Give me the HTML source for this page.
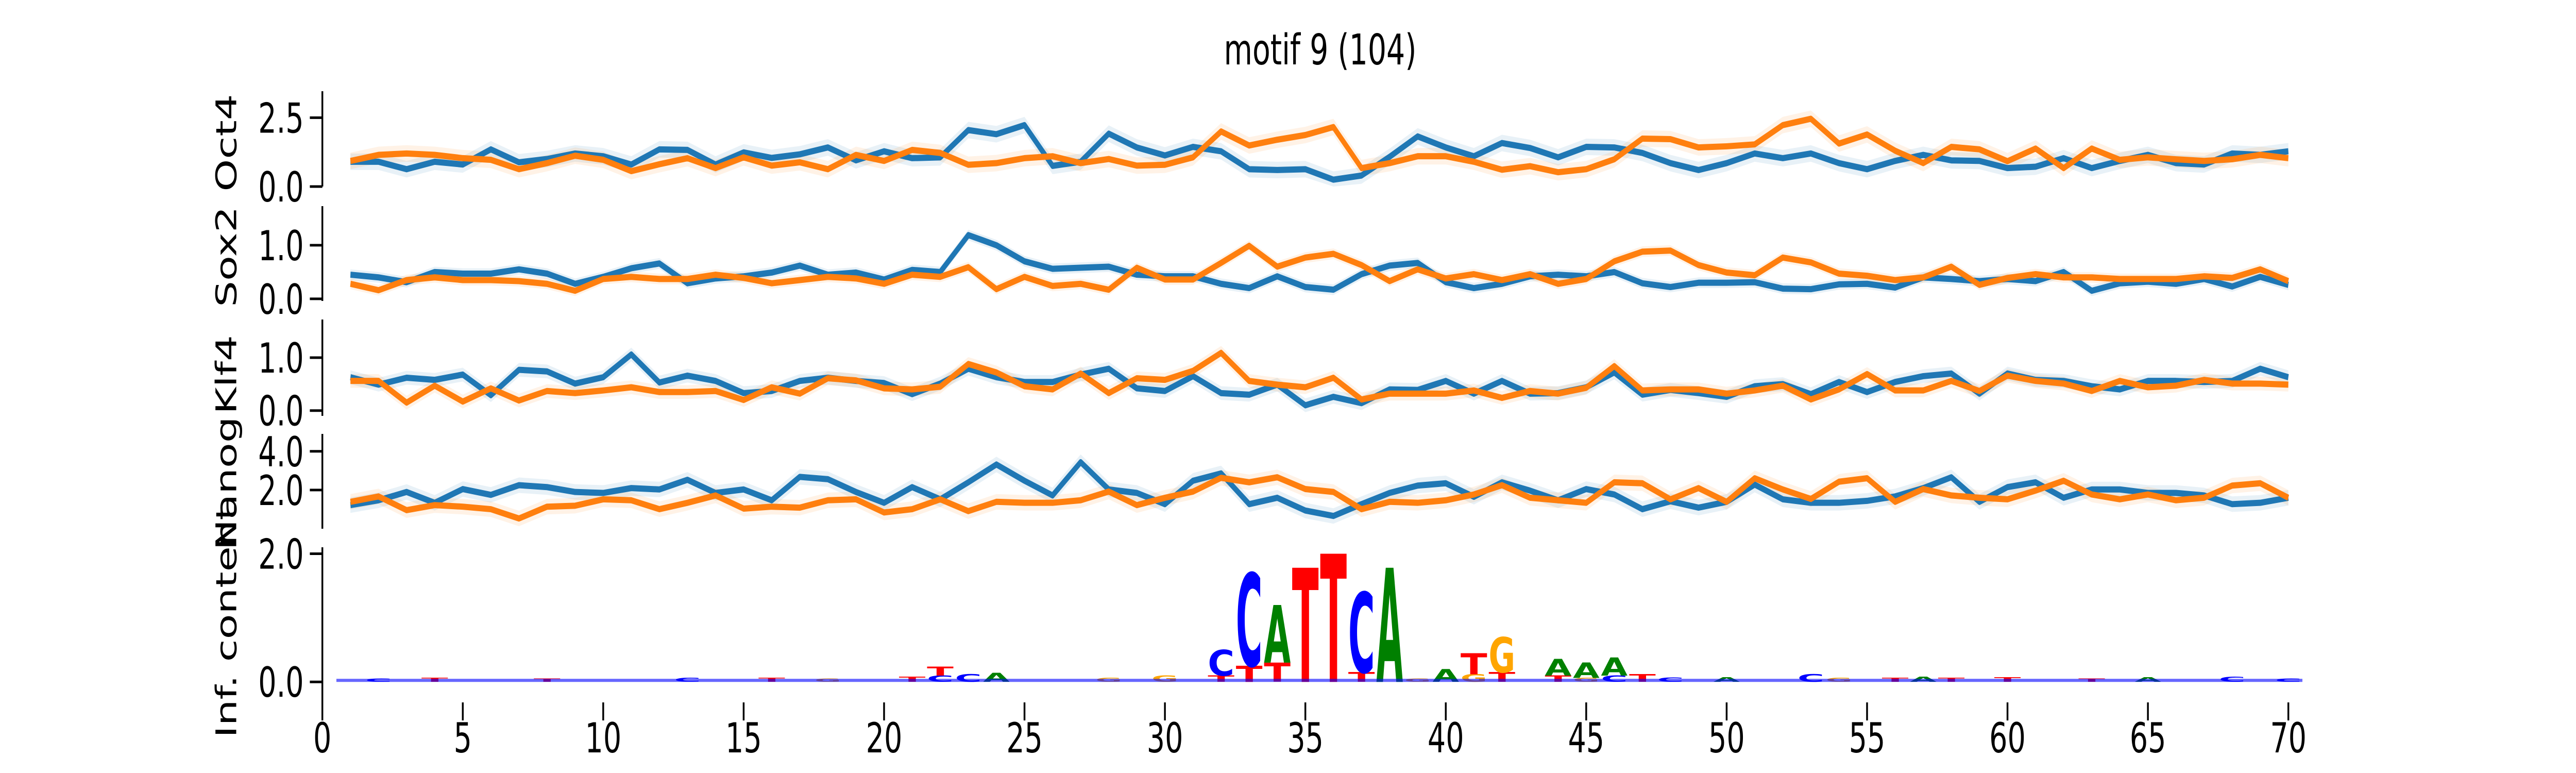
<!DOCTYPE html>
<html><head><meta charset="utf-8">
<style>
html,body{margin:0;padding:0;background:#fff;width:100%;height:100%;overflow:hidden;}
svg{display:block;width:100vw;height:100vh;}
text{font-family:"DejaVu Sans","Liberation Sans",sans-serif;}
</style></head>
<body>
<svg id="chart" viewBox="0 0 7200 1500" preserveAspectRatio="none" xmlns="http://www.w3.org/2000/svg">
<text x="3690" y="125" font-size="82" text-anchor="middle">motif 9 (104)</text>
<g id="plots"></g>
</svg>
<script>
const positions = Array.from({length:70},(_,i)=>i+1);
const oct4Blue = [0.9,0.9,0.63,0.9,0.8,1.35,0.88,1.0,1.2,1.1,0.8,1.35,1.33,0.8,1.24,1.04,1.17,1.42,0.95,1.28,1.03,1.06,2.05,1.9,2.23,0.75,0.9,1.92,1.42,1.13,1.44,1.28,0.63,0.6,0.63,0.25,0.4,1.08,1.82,1.42,1.1,1.58,1.4,1.06,1.44,1.42,1.22,0.85,0.6,0.85,1.2,1.03,1.2,0.85,0.63,0.93,1.15,0.95,0.93,0.67,0.72,1.03,0.67,0.93,1.15,0.85,0.8,1.2,1.15,1.28];
const oct4Orange = [0.93,1.15,1.2,1.15,1.03,0.97,0.63,0.85,1.12,0.97,0.56,0.81,1.03,0.67,1.06,0.76,0.88,0.63,1.15,0.93,1.33,1.22,0.79,0.85,1.03,1.1,0.85,1.0,0.76,0.79,1.06,2.0,1.49,1.7,1.87,2.16,0.67,0.85,1.1,1.1,0.9,0.61,0.74,0.52,0.63,0.99,1.74,1.72,1.42,1.46,1.53,2.23,2.46,1.56,1.89,1.3,0.85,1.44,1.35,0.92,1.38,0.67,1.38,0.97,1.06,0.99,0.93,0.99,1.15,1.03];
const sox2Blue = [0.45,0.4,0.31,0.5,0.47,0.47,0.55,0.47,0.28,0.41,0.57,0.66,0.29,0.38,0.42,0.49,0.62,0.45,0.49,0.36,0.54,0.5,1.19,1.0,0.7,0.56,0.58,0.6,0.45,0.42,0.42,0.28,0.2,0.42,0.22,0.17,0.46,0.62,0.67,0.31,0.2,0.28,0.42,0.45,0.42,0.5,0.29,0.22,0.3,0.3,0.31,0.19,0.18,0.27,0.28,0.21,0.4,0.37,0.33,0.37,0.33,0.5,0.15,0.29,0.32,0.28,0.37,0.23,0.41,0.26];
const sox2Orange = [0.28,0.16,0.35,0.4,0.35,0.35,0.33,0.28,0.15,0.37,0.41,0.37,0.37,0.45,0.39,0.29,0.35,0.41,0.38,0.28,0.45,0.41,0.59,0.18,0.41,0.24,0.28,0.17,0.58,0.36,0.36,0.67,0.99,0.6,0.77,0.84,0.63,0.33,0.55,0.38,0.46,0.35,0.46,0.28,0.37,0.7,0.88,0.9,0.63,0.49,0.44,0.77,0.68,0.47,0.43,0.35,0.4,0.6,0.26,0.39,0.46,0.4,0.4,0.37,0.37,0.37,0.42,0.39,0.55,0.33];
const klf4Blue = [0.63,0.49,0.62,0.58,0.68,0.29,0.77,0.74,0.51,0.63,1.06,0.53,0.66,0.56,0.33,0.37,0.56,0.62,0.56,0.52,0.31,0.51,0.79,0.63,0.54,0.54,0.68,0.79,0.42,0.37,0.65,0.33,0.3,0.49,0.1,0.26,0.14,0.4,0.39,0.56,0.32,0.56,0.32,0.33,0.44,0.72,0.3,0.39,0.33,0.26,0.46,0.5,0.31,0.54,0.35,0.54,0.65,0.7,0.32,0.7,0.58,0.56,0.46,0.4,0.56,0.56,0.54,0.56,0.79,0.63];
const klf4Orange = [0.56,0.56,0.15,0.47,0.17,0.42,0.19,0.37,0.33,0.38,0.44,0.35,0.35,0.37,0.2,0.44,0.32,0.61,0.57,0.42,0.4,0.45,0.88,0.72,0.46,0.4,0.7,0.33,0.61,0.58,0.75,1.09,0.56,0.49,0.44,0.62,0.21,0.32,0.32,0.32,0.38,0.24,0.37,0.32,0.43,0.84,0.38,0.4,0.4,0.32,0.38,0.47,0.21,0.4,0.69,0.38,0.38,0.56,0.37,0.66,0.56,0.51,0.37,0.56,0.44,0.47,0.58,0.51,0.51,0.49];
const nanogBlue = [1.22,1.47,1.9,1.34,2.05,1.75,2.25,2.15,1.9,1.85,2.1,2.03,2.53,1.85,2.03,1.47,2.68,2.56,1.9,1.34,2.15,1.52,2.4,3.32,2.48,1.72,3.44,2.03,1.85,1.27,2.48,2.86,1.27,1.6,0.94,0.66,1.27,1.85,2.23,2.35,1.65,2.4,1.97,1.47,2.05,1.77,1.01,1.42,1.09,1.39,2.28,1.52,1.34,1.34,1.44,1.67,2.1,2.66,1.39,2.15,2.4,1.6,2.03,2.03,1.85,1.85,1.72,1.27,1.34,1.6];
const nanogOrange = [1.39,1.67,0.96,1.22,1.14,1.01,0.53,1.14,1.19,1.52,1.47,1.01,1.34,1.72,1.04,1.14,1.09,1.47,1.52,0.84,1.01,1.52,0.91,1.39,1.34,1.34,1.47,1.92,1.22,1.6,1.92,2.63,2.4,2.66,2.05,1.9,1.01,1.39,1.34,1.47,1.77,2.25,1.6,1.47,1.34,2.4,2.35,1.52,2.1,1.39,2.61,2.03,1.54,2.43,2.61,1.39,2.05,1.72,1.6,1.52,1.97,2.48,1.77,1.52,1.77,1.47,1.6,2.23,2.35,1.6];
const panelNames = ["Oct4","Sox2","Klf4","Nanog"];
const panelTicks = [[0,2.5],[0,1.0],[0,1.0],[2.0,4.0]];
const panelErr = [0.3,0.1,0.13,0.4];
const logoPos = [2,4,8,13,16,18,21,22,23,24,28,30,32,33,34,35,36,37,38,39,40,41,42,44,45,46,47,48,50,53,54,56,57,58,60,63,65,68,70];
const logoLetters = ["C","T","T","C","T","G","T","CT","C","A","G","G","TC","TC","TA","T","T","TC","A","G","A","GT","TG","TA","GA","CA","T","C","A","C","G","T","A","T","T","T","A","C","C"];
const logoHeights = [[0.05],[0.06],[0.05],[0.06],[0.06],[0.05],[0.08],[0.1,0.14],[0.12],[0.14],[0.06],[0.1],[0.1,0.4],[0.25,1.45],[0.3,0.9],[1.78],[2.0],[0.15,1.25],[1.78],[0.05],[0.2],[0.12,0.33],[0.15,0.55],[0.1,0.26],[0.06,0.24],[0.1,0.28],[0.12],[0.07],[0.07],[0.12],[0.06],[0.06],[0.08],[0.06],[0.07],[0.05],[0.07],[0.08],[0.05]];
const xTicks = [0,5,10,15,20,25,30,35,40,45,50,55,60,65,70];

const NS="http://www.w3.org/2000/svg";
const g=document.getElementById('plots');
function el(tag,attrs,parent){const e=document.createElementNS(NS,tag);for(const k in attrs)e.setAttribute(k,attrs[k]);(parent||g).appendChild(e);return e;}
const X0=901, XU=78.5;
function xs(v){return X0+v*XU;}
const panels=[{top:177,bot:362,ymin:0,ymax:3.46},{top:400,bot:584,ymin:-0.04,ymax:1.73},{top:620,bot:807,ymin:-0.1,ymax:1.72},{top:842,bot:1026,ymin:0,ymax:4.9}];
const labelY=[277,498,727,938];
const series=[[oct4Blue,oct4Orange],[sox2Blue,sox2Orange],[klf4Blue,klf4Orange],[nanogBlue,nanogOrange]];
const colors=["#1f77b4","#ff7f0e"];
panels.forEach((p,i)=>{
  const ys=v=>p.bot-(v-p.ymin)/(p.ymax-p.ymin)*(p.bot-p.top);
  const sp=el('line',{x1:X0,x2:X0,y1:p.top,y2:p.bot,stroke:'#000','stroke-width':5});
  
  
  panelTicks[i].forEach(t=>{
    const tk=el('line',{x1:X0-35,x2:X0,y1:ys(t),y2:ys(t),stroke:'#000','stroke-width':5});
    
    
    const tl=el('text',{x:X0-52,y:ys(t)+29,'font-size':80,'text-anchor':'end'});
    tl.textContent=t.toFixed(1);
    
    
  });
  const lab=el('text',{transform:`translate(660,${labelY[i]}) rotate(-90)`,'font-size':80,'text-anchor':'middle'});
  lab.textContent=panelNames[i];
  
  
  series[i].forEach((vals,k)=>{
    const up=vals.map((v,j)=>xs(positions[j])+','+ys(v+panelErr[i]));
    const dn=vals.map((v,j)=>xs(positions[j])+','+ys(Math.max(p.ymin,v-panelErr[i]))).reverse();
    const band=el('polygon',{points:up.concat(dn).join(' '),fill:colors[k],'fill-opacity':0.1});
    
    
  });
  series[i].forEach((vals,k)=>{
    const ln=el('polyline',{points:vals.map((v,j)=>xs(positions[j])+','+ys(v)).join(' '),fill:'none',stroke:colors[k],'stroke-width':12,'stroke-linejoin':'round'});
    
    
  });
});
const L={top:1062,bot:1363,ymin:-0.32,ymax:2.1};
const ly=v=>L.bot-(v-L.ymin)/(L.ymax-L.ymin)*(L.bot-L.top);
const lsp=el('line',{x1:X0,x2:X0,y1:L.top,y2:L.bot,stroke:'#000','stroke-width':5});


[0,2.0].forEach(t=>{
  const tk=el('line',{x1:X0-35,x2:X0,y1:ly(t),y2:ly(t),stroke:'#000','stroke-width':5});
  
  
  const tl=el('text',{x:X0-52,y:ly(t)+29,'font-size':80,'text-anchor':'end'});
  tl.textContent=t.toFixed(1);
  
  
});
const ll=el('text',{transform:'translate(660,1205) rotate(-90)','font-size':80,'text-anchor':'middle'});
ll.textContent='Inf. content';


const lcol={A:'#008000',C:'#0000ff',G:'#ffa500',T:'#ff0000'};
const adv={A:0.774,C:0.734,G:0.821,T:0.682};
logoPos.forEach((pos,i)=>{
  let base=0;
  logoLetters[i].split('').forEach((ch,k)=>{
    const h=logoHeights[i][k];
    const y0=ly(base), y1=ly(base+h);
    const sx=(XU*0.95)/(adv[ch]*100), sy=(y0-y1)/72.9;
    const t=el('text',{transform:`translate(${xs(pos)},${y0}) scale(${sx},${sy})`,'font-size':100,'font-weight':'bold','text-anchor':'middle',fill:lcol[ch]});
    t.textContent=ch;
    
    
    base+=h;
  });
});
const bl=el('line',{x1:xs(0.5),x2:xs(70.5),y1:ly(0)-3,y2:ly(0)-3,stroke:'#0000ff','stroke-width':6,'stroke-opacity':0.6});


xTicks.forEach(t=>{
  const tk=el('line',{x1:xs(t),x2:xs(t),y1:1363,y2:1398,stroke:'#000','stroke-width':5});
  
  
  const tl=el('text',{x:xs(t),y:1460,'font-size':80,'text-anchor':'middle'});
  tl.textContent=t;
  
  
});
</script>
</body></html>
